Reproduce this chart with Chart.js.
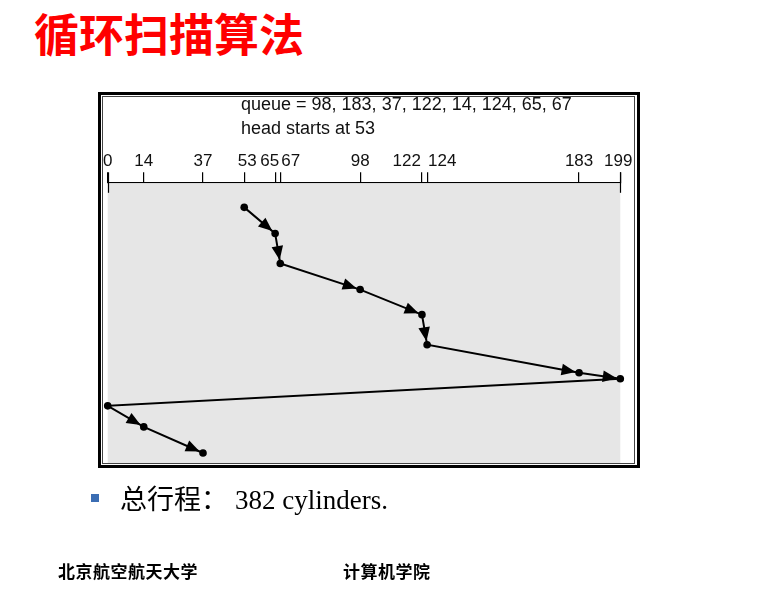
<!DOCTYPE html>
<html>
<head>
<meta charset="utf-8">
<script src="https://cdn.jsdelivr.net/npm/chart.js@4.4.1/dist/chart.umd.min.js"></script>
<style>
  html, body { margin:0; padding:0; background:#fff; }
  body { width:764px; height:600px; position:relative; overflow:hidden; }
  #c { position:absolute; left:0; top:0; }
  .abs { position:absolute; white-space:nowrap; }
  #title { left:34px; top:10px; font:700 45px/1 "Noto Sans CJK SC", sans-serif; color:#ff0000; }
  #frameOuter { left:98px; top:92px; width:536px; height:370px; border:3px solid #000; pointer-events:none; }
  #frameInner { left:102px; top:96px; width:531px; height:366px; border:1px solid #444; pointer-events:none; }
  #queue { left:241px; top:92px; font:18px/24px "Liberation Sans", Arial, sans-serif; color:#111; }
  #bullet { left:91px; top:494px; width:8px; height:8px; background:#3b6db3; }
  #total { left:120px; top:483px; font:27px/34px "Liberation Serif", "Noto Sans CJK SC", serif; color:#000; }
  #total span { margin-left:7px; }
  .foot { top:561px; font:700 17px/20px "Noto Sans CJK SC", sans-serif; color:#000; letter-spacing:0.5px; }
</style>
</head>
<body>
<div id="title" class="abs">循环扫描算法</div>
<canvas id="c" width="764" height="600"></canvas>
<div id="frameOuter" class="abs"></div>
<div id="frameInner" class="abs"></div>
<div id="queue" class="abs">queue = 98, 183, 37, 122, 14, 124, 65, 67<br>head starts at 53</div>
<div id="bullet" class="abs"></div>
<div id="total" class="abs">总行程：<span>382 cylinders.</span></div>
<div class="abs foot" style="left:58px;">北京航空航天大学</div>
<div class="abs foot" style="left:343px;">计算机学院</div>
<script>
// Service order of cylinders (head starts at 53, C-SCAN toward 199, jump to 0)
const cylinders = [53, 65, 67, 98, 122, 124, 183, 199, 0, 14, 37];
// Vertical position of each step (down the page)
const rows = [0, 26, 56, 82, 107, 137, 165, 171, 198, 219, 245];
// Axis tick values and labels
const tickValues = [0, 14, 37, 53, 65, 67, 98, 122, 124, 183, 199];
const tickLabels = ['0', '14', '37', '53', '65', '67', '98', '122', '124', '183', '199'];
// Which segments carry an arrowhead (the return sweep 199 -> 0 has none)
const arrowSegments = [1, 1, 1, 1, 1, 1, 1, 0, 1, 1];

// label placement styles
const labelAlign = ['center','center','center','center','right','left','center','right','left','center','center'];
const labelDx    = [0, 0, 0, 3, 4, 1, 0, -1, 1, 0, -2];

const bgPlugin = {
  id: 'bg',
  beforeDatasetsDraw(chart) {
    const a = chart.chartArea, ctx = chart.ctx;
    ctx.save();
    ctx.fillStyle = '#e6e6e6';
    ctx.fillRect(a.left, a.top + 1, a.right - a.left, a.bottom - a.top - 1);
    ctx.restore();
  }
};

const axisExtras = {
  id: 'axisExtras',
  afterDraw(chart) {
    const ctx = chart.ctx, xs = chart.scales.x;
    ctx.save();
    ctx.strokeStyle = '#000';
    ctx.lineWidth = 1.2;
    [tickValues[0], tickValues[tickValues.length - 1]].forEach(v => {
      const px = Math.round(xs.getPixelForValue(v)) + 0.5;
      ctx.beginPath();
      ctx.moveTo(px, xs.bottom - 10);
      ctx.lineTo(px, xs.bottom + 10.5);
      ctx.stroke();
    });
    ctx.fillStyle = '#111';
    ctx.font = '17px "Liberation Sans", Arial, sans-serif';
    ctx.textBaseline = 'middle';
    tickValues.forEach((v, i) => {
      ctx.textAlign = labelAlign[i];
      ctx.fillText(tickLabels[i], xs.getPixelForValue(v) + labelDx[i], xs.bottom - 21);
    });
    ctx.restore();
  }
};

const arrowPlugin = {
  id: 'arrows',
  afterDatasetsDraw(chart) {
    const ctx = chart.ctx;
    const pts = chart.getDatasetMeta(0).data;
    ctx.save();
    ctx.fillStyle = '#000';
    for (let i = 0; i < pts.length - 1; i++) {
      if (!arrowSegments[i]) continue;
      const p0 = pts[i], p1 = pts[i + 1];
      const dx = p1.x - p0.x, dy = p1.y - p0.y;
      const len = Math.hypot(dx, dy);
      const ux = dx / len, uy = dy / len;
      const tipX = p1.x - ux * 3.6, tipY = p1.y - uy * 3.6;
      const bx = tipX - ux * 14, by = tipY - uy * 14;
      const hw = 5.8;
      ctx.beginPath();
      ctx.moveTo(tipX, tipY);
      ctx.lineTo(bx - uy * hw, by + ux * hw);
      ctx.lineTo(bx + uy * hw, by - ux * hw);
      ctx.closePath();
      ctx.fill();
    }
    ctx.restore();
  }
};

new Chart(document.getElementById('c'), {
  type: 'line',
  data: {
    datasets: [{
      data: cylinders.map((c, i) => ({ x: c, y: rows[i] })),
      borderColor: '#000',
      borderWidth: 2,
      pointRadius: 3.8,
      pointBackgroundColor: '#000',
      pointBorderColor: '#000',
      pointBorderWidth: 0,
      tension: 0,
      fill: false,
      clip: false
    }]
  },
  options: {
    responsive: false,
    animation: false,
    devicePixelRatio: 1,
    events: [],
    layout: { padding: { left: 107.7, right: 764 - 620.3, top: 142.3, bottom: 600 - 463 } },
    plugins: { legend: { display: false }, tooltip: { enabled: false } },
    scales: {
      x: {
        type: 'linear',
        position: 'top',
        min: 0,
        max: 199,
        afterBuildTicks: s => { s.ticks = tickValues.map(v => ({ value: v })); },
        afterFit: s => { s.height = 40; },
        ticks: { display: false, autoSkip: false },
        grid: { drawOnChartArea: false, drawTicks: true, tickLength: 10, color: '#000', lineWidth: 1.2 },
        border: { display: true, color: '#000', width: 1.2 }
      },
      y: {
        type: 'linear',
        display: false,
        reverse: true,
        min: -25,
        max: 255
      }
    }
  },
  plugins: [bgPlugin, axisExtras, arrowPlugin]
});
</script>
</body>
</html>
